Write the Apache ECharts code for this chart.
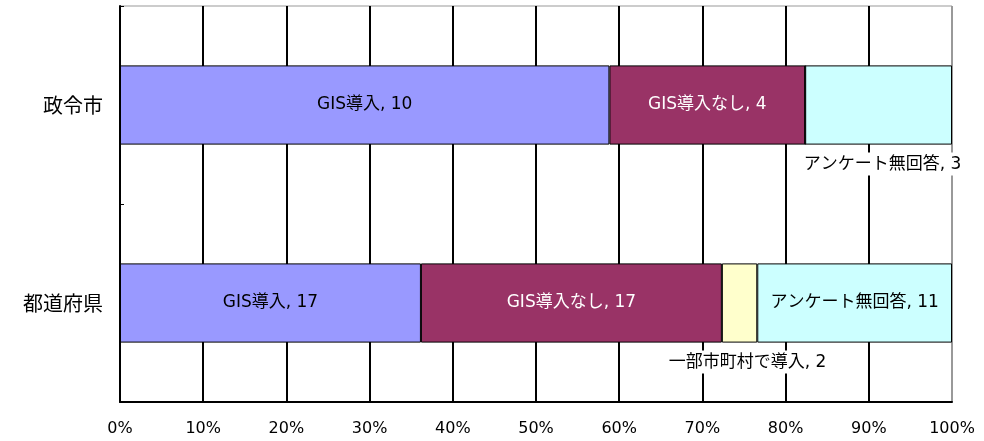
<!DOCTYPE html>
<html>
<head>
<meta charset="utf-8">
<script src="https://cdn.jsdelivr.net/npm/echarts@6/dist/echarts.min.js"></script>
<style>html,body{margin:0;padding:0;background:#fff}#c{width:984px;height:441px}</style>
</head>
<body>
<div id="c"></div>
<script>
// Categories (bottom to top) and response counts per answer
const categories = ['都道府県', '政令市'];
const seriesNames = ['GIS導入', 'GIS導入なし', '一部市町村で導入', 'アンケート無回答'];
const gisYes = [17, 10];
const gisNo = [17, 4];
const gisPartial = [2, 0];
const noAnswer = [11, 3];
const xTicks = ['0%', '10%', '20%', '30%', '40%', '50%', '60%', '70%', '80%', '90%', '100%'];

const colors = ['#9999FF', '#993366', '#FFFFCC', '#CCFFFF'];
const counts = [gisYes, gisNo, gisPartial, noAnswer];
const totals = categories.map((_, i) => counts.reduce((s, arr) => s + arr[i], 0));

const FONT = '"DejaVu Sans", "Noto Sans CJK JP", sans-serif';
const CJK = '"Noto Sans CJK JP", sans-serif';

// Labels that sit outside their bar segment, below it on a white patch
const outsideLabel = {
  2: { 0: { offset: [8, 0] } },
  3: { 1: { offset: [4, 0] } }
};

const series = counts.map((arr, s) => ({
  name: seriesNames[s],
  type: 'bar',
  stack: 'total',
  barWidth: '40%',
  clip: false,
  itemStyle: { color: colors[s], borderColor: '#000', borderWidth: 1 },
  data: arr.map((v, i) => {
    const item = { value: v / totals[i] * 100, count: v };
    const out = outsideLabel[s] && outsideLabel[s][i];
    if (v === 0) {
      item.label = { show: false };
    } else if (out) {
      item.label = {
        show: true,
        position: 'bottom',
        distance: 8,
        offset: out.offset,
        backgroundColor: '#fff',
        padding: [3, 8, 3, 8],
        color: '#000'
      };
    }
    return item;
  }),
  label: {
    show: true,
    position: 'inside',
    fontFamily: FONT,
    fontSize: 17,
    color: s === 1 ? '#fff' : '#000',
    formatter: p => seriesNames[s] + ', ' + p.data.count
  }
}));

// Vertical grid lines are black; the 100% edge is drawn grey
const gridColors = xTicks.map((_, i) => i === xTicks.length - 1 ? '#999' : '#000');

const chart = echarts.init(document.getElementById('c'), null, { renderer: 'canvas' });
chart.setOption({
  animation: false,
  backgroundColor: '#fff',
  grid: { left: 120, right: 32, top: 6, bottom: 39, show: true, borderColor: '#999', borderWidth: 1 },
  xAxis: {
    type: 'value',
    min: 0, max: 100, interval: 10,
    axisLine: { show: true, lineStyle: { color: '#000', width: 2 } },
    axisTick: { show: false },
    splitLine: { show: true, lineStyle: { color: gridColors, width: 2 } },
    axisLabel: {
      margin: 19,
      fontFamily: FONT, fontSize: 16, color: '#000',
      formatter: v => xTicks[Math.round(v / 10)]
    }
  },
  yAxis: {
    type: 'category',
    data: categories,
    axisLine: { show: true, lineStyle: { color: '#000', width: 2 } },
    axisTick: { show: true, inside: true, length: 4, lineStyle: { color: '#000' } },
    axisLabel: { margin: 17, fontFamily: CJK, fontSize: 20, color: '#000' }
  },
  series
});
</script>
</body>
</html>
